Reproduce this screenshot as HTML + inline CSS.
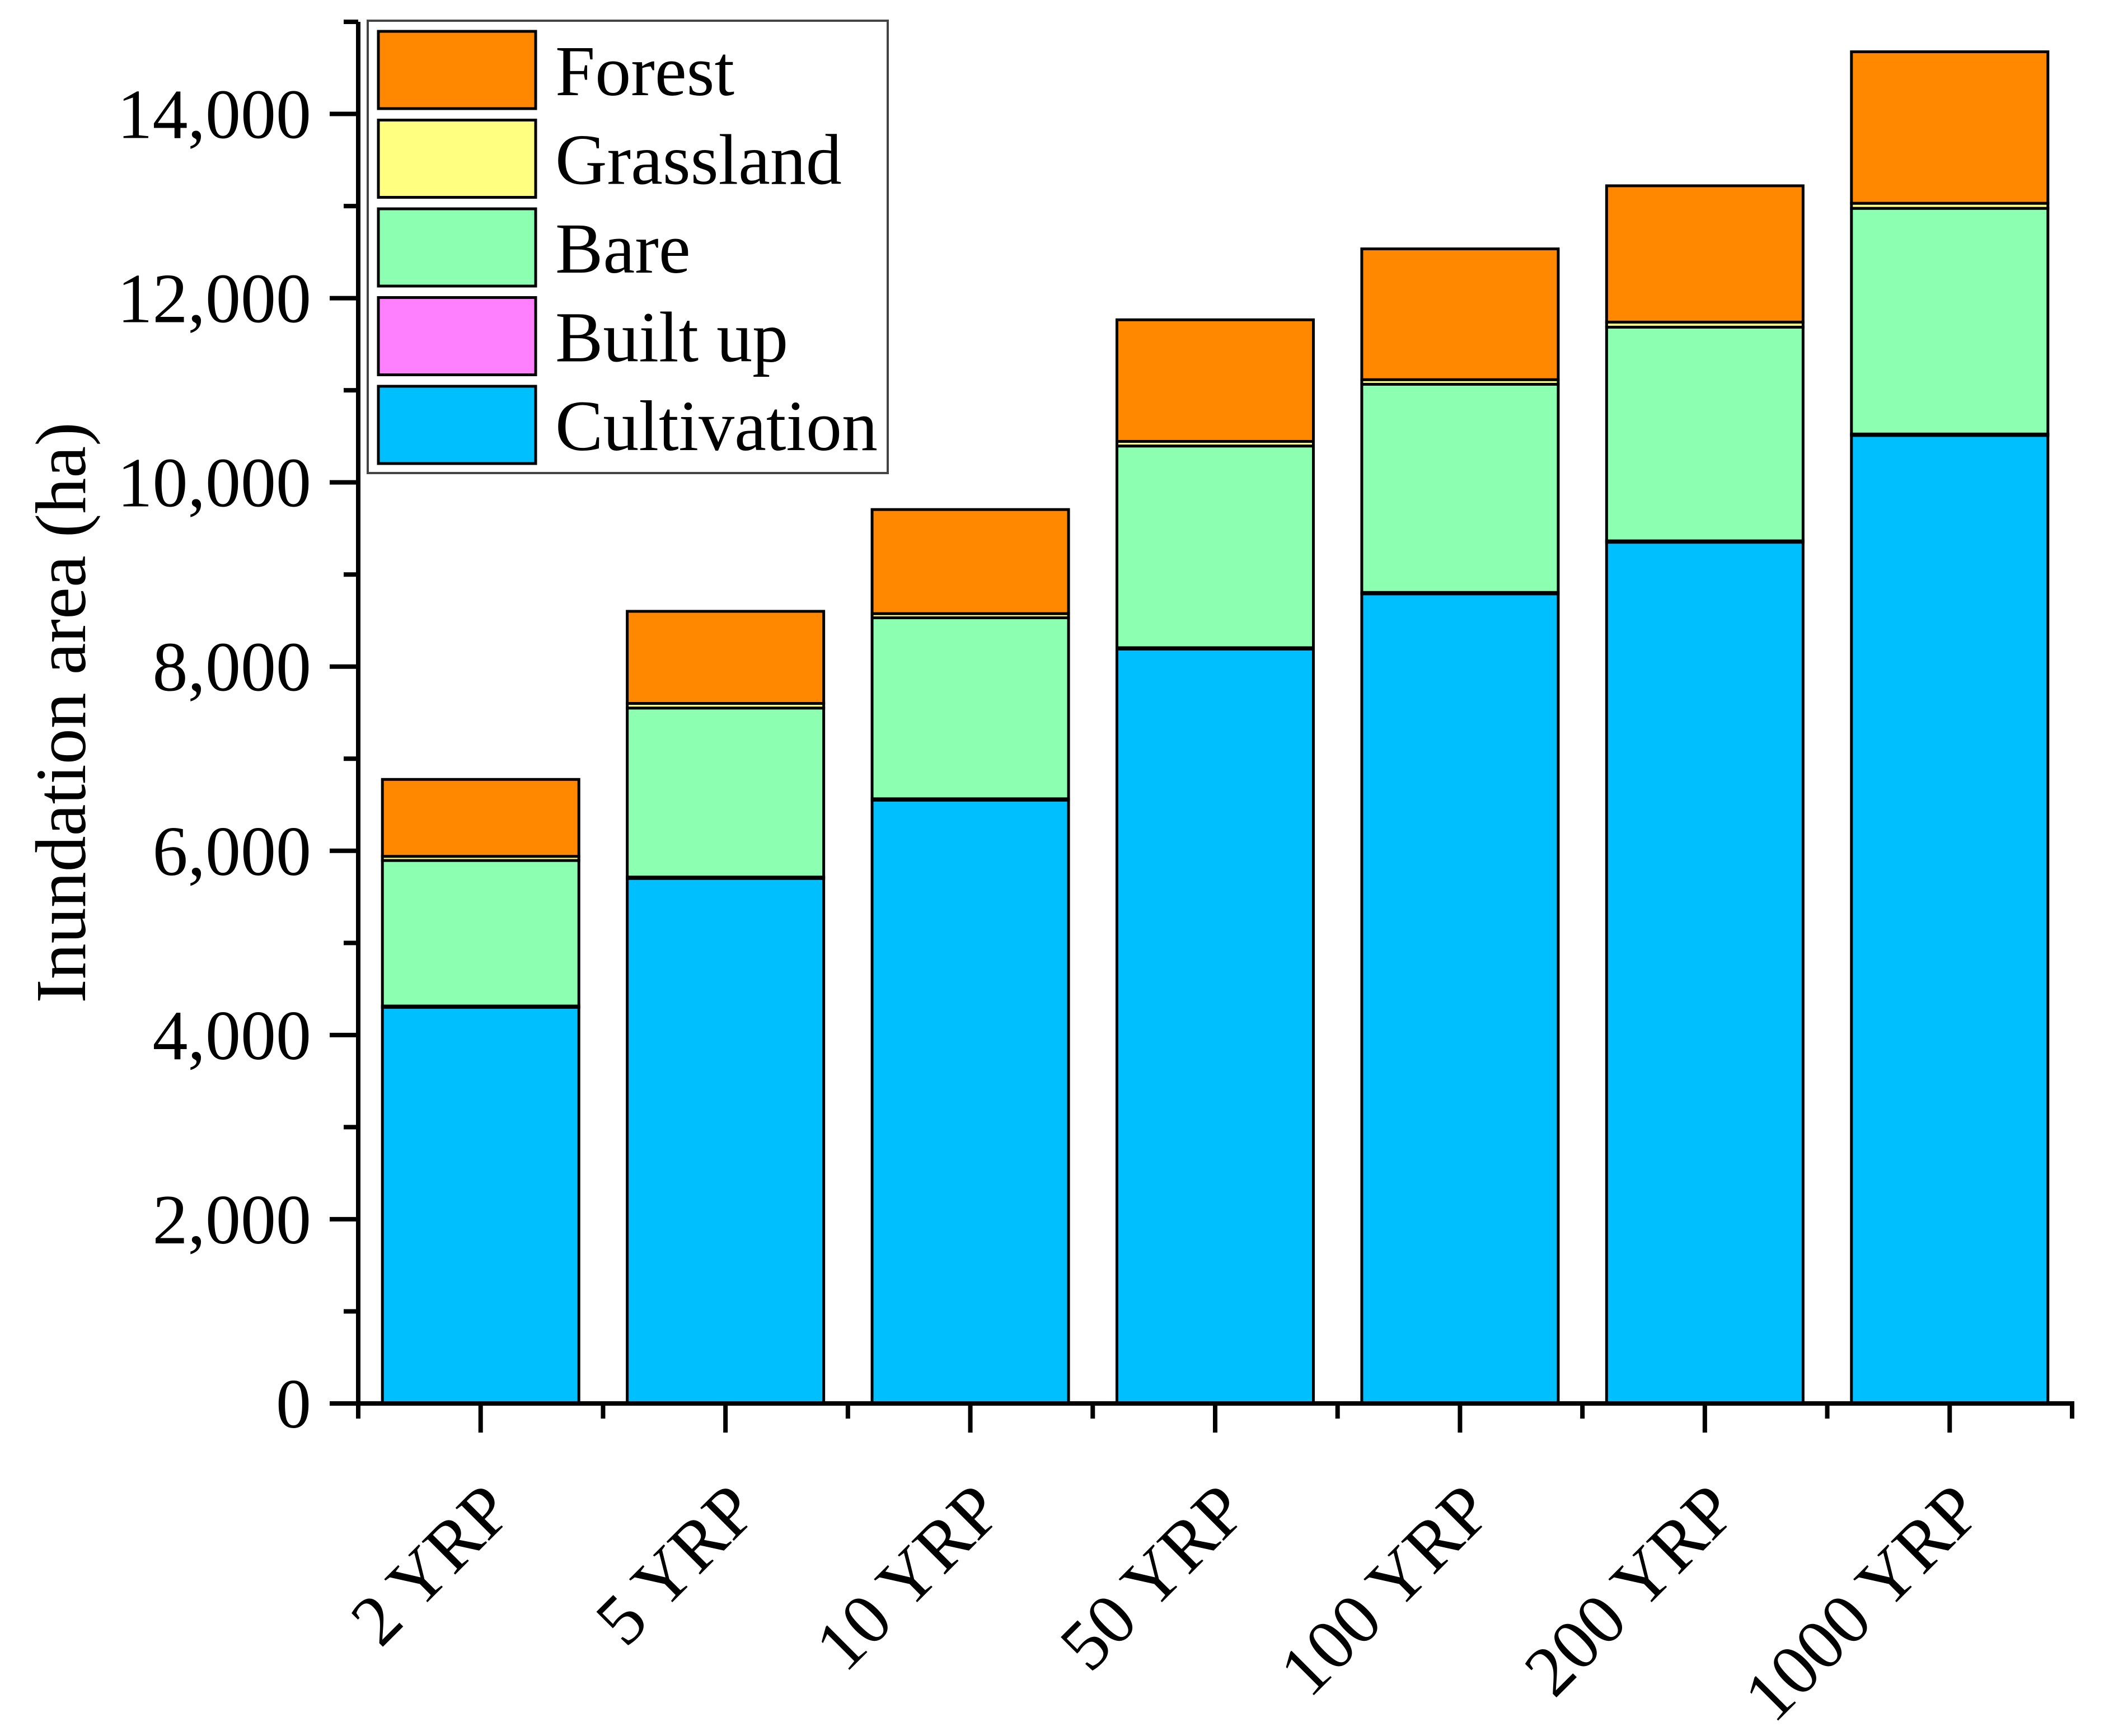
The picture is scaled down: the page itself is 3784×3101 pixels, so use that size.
<!DOCTYPE html>
<html><head><meta charset="utf-8"><style>
html,body{margin:0;padding:0;background:#fff;}
svg{display:block;font-family:"Liberation Serif",serif;}
</style></head><body>
<svg id="chart" width="3784" height="3101" viewBox="0 0 3784 3101" xmlns="http://www.w3.org/2000/svg">
<g id="bars"></g>
<g id="axes"></g>
<g id="legend"></g>
<text transform="translate(152,1273) rotate(-90)" text-anchor="middle" font-size="128">Inundation area (ha)</text>
</svg>
<script>
const categories = ["2 YRP","5 YRP","10 YRP","50 YRP","100 YRP","200 YRP","1000 YRP"];
const cultivation = [4300,5700,6550,8190,8790,9350,10510];
const builtUp = [15,15,15,15,15,15,15];
const bare = [1580,1835,1965,2190,2260,2320,2450];
const grassland = [45,50,45,50,50,55,55];
const forest = [835,1000,1130,1320,1420,1480,1645];
const yTicks = [0,2000,4000,6000,8000,10000,12000,14000];
const yTickLabels = ["0","2,000","4,000","6,000","8,000","10,000","12,000","14,000"];

const NS="http://www.w3.org/2000/svg";
const X0=640, X1=3702, Y0=2507, YTOP=39, YMAX=15000;
const pitch=(X1-X0)/categories.length, barW=351;
function yScale(v){return Y0-(v/YMAX)*(Y0-YTOP);}
function xCenter(i){return X0+pitch*(i+0.5);}
function mk(tag,attrs,parent){const e=document.createElementNS(NS,tag);for(const k in attrs)e.setAttribute(k,attrs[k]);parent.appendChild(e);return e;}

const series=[
 {name:"cultivation",vals:cultivation,color:"#00BFFF"},
 {name:"built-up",vals:builtUp,color:"#FF80FF"},
 {name:"bare",vals:bare,color:"#8CFFB0"},
 {name:"grassland",vals:grassland,color:"#FFFF80"},
 {name:"forest",vals:forest,color:"#FF8800"}];
const gb=document.getElementById('bars');
categories.forEach((c,i)=>{
  let base=0;
  series.forEach(s=>{
    const v=s.vals[i];
    const r=mk('rect',{x:xCenter(i)-barW/2,y:yScale(base+v),width:barW,height:yScale(base)-yScale(base+v),fill:s.color,stroke:"#000","stroke-width":5},gb);
    
    
    base+=v;
  });
});
const ga=document.getElementById('axes');
let l=mk('line',{x1:X0,y1:YTOP,x2:X0,y2:Y0+4,stroke:"#000","stroke-width":8},ga);


l=mk('line',{x1:X0-4,y1:Y0,x2:X1+4,y2:Y0,stroke:"#000","stroke-width":8},ga);


for(let v=0;v<=YMAX;v+=1000){
  const major=v%2000===0;
  const t=mk('line',{x1:major?589:614,y1:yScale(v),x2:X0,y2:yScale(v),stroke:"#000","stroke-width":8},ga);
  
  
}
yTicks.forEach((v,i)=>{
  const t=mk('text',{x:556,y:yScale(v)+43,"text-anchor":"end","font-size":126},ga);
  t.textContent=yTickLabels[i];
  
  
});
for(let i=0;i<=categories.length;i++){
  const t=mk('line',{x1:X0+pitch*i,y1:Y0,x2:X0+pitch*i,y2:2534,stroke:"#000","stroke-width":8},ga);
  
  
}
categories.forEach((c,i)=>{
  const t=mk('line',{x1:xCenter(i),y1:Y0,x2:xCenter(i),y2:2559,stroke:"#000","stroke-width":8},ga);
  
  
  const tx=xCenter(i)+62, ty=2705;
  const lb=mk('text',{x:tx,y:ty,"text-anchor":"end","font-size":128,transform:`rotate(-45 ${tx} ${ty})`},ga);
  lb.textContent=c;
  
  
});
const gl=document.getElementById('legend');
const lbox=mk('rect',{x:657,y:37,width:929,height:808,fill:"#fff",stroke:"#444","stroke-width":4},gl);


const legendItems=[["Forest","#FF8800"],["Grassland","#FFFF80"],["Bare","#8CFFB0"],["Built up","#FF80FF"],["Cultivation","#00BFFF"]];
legendItems.forEach((it,i)=>{
  const y=56+i*158.5;
  const sw=mk('rect',{x:676,y:y,width:281,height:138,fill:it[1],stroke:"#000","stroke-width":5},gl);
  
  
  const tx=mk('text',{x:992,y:y+114,"font-size":128},gl);
  tx.textContent=it[0];
  
  
});
</script>
</body></html>
